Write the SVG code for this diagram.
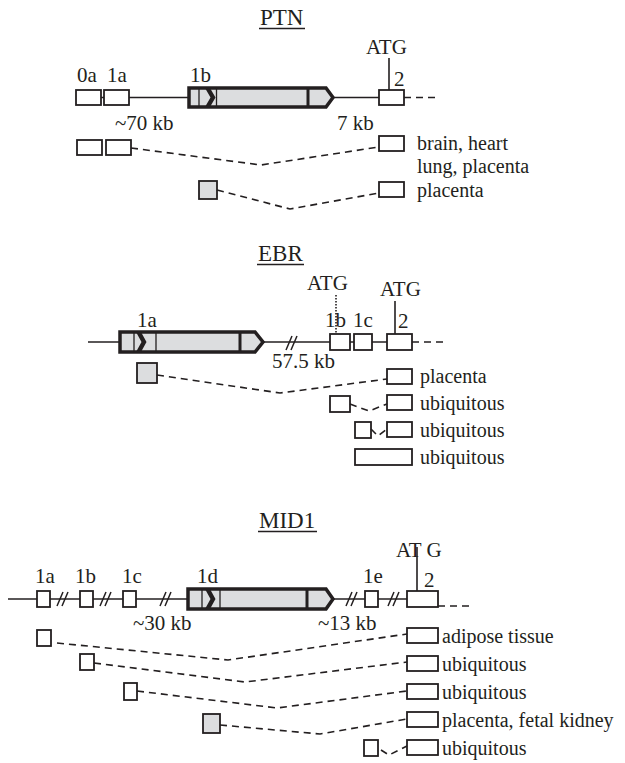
<svg xmlns="http://www.w3.org/2000/svg" xmlns:xlink="http://www.w3.org/1999/xlink" width="625" height="763" viewBox="0 0 625 763">
<style>
.t{font-family:"Liberation Serif","Times New Roman",serif;font-size:21px;fill:#231f20}
.r{font-size:20px}
.h{font-size:23px}
.ex{fill:#fff;stroke:#231f20;stroke-width:1.8}
.gx{fill:#dcdddf;stroke:#231f20;stroke-width:1.8}
.ln{stroke:#231f20;stroke-width:1.6;fill:none}
.ds{stroke:#231f20;stroke-width:1.6;fill:none;stroke-dasharray:7 5}
.big{fill:#dcdddf;stroke:#231f20;stroke-width:3.5}
.thin{stroke:#231f20;stroke-width:1.3}
.div{stroke:#231f20;stroke-width:3}
.chev{fill:#231f20}
</style>
<defs>
<path id="brk" d="M-5,7 L1,-7 M0,7 L6,-7" stroke="#231f20" stroke-width="1.5" fill="none"/>
</defs>

<!-- ================= PTN ================= -->
<g id="ptn-title"><text class="t h" x="260" y="25">PTN</text><line class="ln" x1="259" y1="28.5" x2="305" y2="28.5"/></g>
<g id="ptn-gene">
<line class="ln" x1="101" y1="97.5" x2="379" y2="97.5"/>
<text class="t" x="366" y="54">ATG</text>
<line class="ln" x1="389" y1="58" x2="389" y2="90"/>
<text class="t" x="77" y="82">0a</text>
<text class="t" x="107" y="82">1a</text>
<text class="t" x="190" y="82">1b</text>
<text class="t" x="394" y="86">2</text>
<text class="t" x="115" y="130">~70 kb</text>
<text class="t" x="337" y="130">7 kb</text>
</g>
<g id="ptn-0a"><rect class="ex" x="76" y="90" width="25" height="15"/></g>
<g id="ptn-1a"><rect class="ex" x="104" y="90" width="25" height="15"/></g>
<g id="ptn-1b">
<path class="big" d="M189,88 H326 L333,97.5 L326,107 H189 Z"/>
<line class="thin" x1="199" y1="88" x2="199" y2="107"/>
<polygon class="chev" points="205,88 210,88 215.5,97.5 210,107 205,107 210.5,97.5"/>
<line class="thin" x1="216.5" y1="88" x2="216.5" y2="107"/>
<line class="div" x1="308" y1="88" x2="308" y2="107"/>
</g>
<g id="ptn-2"><rect class="ex" x="379" y="90" width="25" height="15"/></g>
<g id="ptn-r1">
<rect class="ex" x="77" y="140" width="25" height="15"/>
<rect class="ex" x="106" y="140" width="25" height="15"/>
<rect class="ex" x="379" y="136" width="25" height="15"/>
<text class="t r" x="417" y="150">brain, heart</text>
<text class="t r" x="417" y="173">lung, placenta</text>
</g>
<g id="ptn-r2">
<rect class="gx" x="199" y="181" width="18" height="18"/>
<rect class="ex" x="379" y="182" width="25" height="15"/>
<text class="t r" x="417" y="197">placenta</text>
</g>

<!-- ================= EBR ================= -->
<g id="ebr-title"><text class="t h" x="258" y="261">EBR</text><line class="ln" x1="257" y1="264.5" x2="304" y2="264.5"/></g>
<g id="ebr-gene">
<line class="ln" x1="88" y1="342" x2="387" y2="342"/>
<use xlink:href="#brk" x="291" y="343"/>
<text class="t" x="307" y="290">ATG</text>
<line class="ln" x1="336" y1="295" x2="336" y2="334" stroke-dasharray="1.5 1.5"/>
<text class="t" x="380" y="296">ATG</text>
<line class="ln" x1="395" y1="301" x2="395" y2="334"/>
<text class="t" x="137" y="327">1a</text>
<text class="t" x="325" y="327">1b</text>
<text class="t" x="353" y="327">1c</text>
<text class="t" x="398" y="328">2</text>
<text class="t" x="272" y="368">57.5 kb</text>
</g>
<g id="ebr-1a">
<path class="big" d="M120,332 H255 L263,342 L255,352 H120 Z"/>
<line class="thin" x1="134" y1="332" x2="134" y2="352"/>
<polygon class="chev" points="136,332 141,332 146.5,342 141,352 136,352 141.5,342"/>
<line class="thin" x1="156" y1="332" x2="156" y2="352"/>
<line class="div" x1="240" y1="332" x2="240" y2="352"/>
</g>
<g id="ebr-1b"><rect class="ex" x="330" y="334" width="20" height="16"/></g>
<g id="ebr-1c"><rect class="ex" x="354" y="334" width="18" height="16"/></g>
<g id="ebr-2"><rect class="ex" x="387" y="334" width="25" height="16"/></g>
<g id="ebr-r1">
<rect class="gx" x="137" y="363" width="20" height="20"/>
<rect class="ex" x="387" y="369" width="25" height="15"/>
<text class="t r" x="420" y="383">placenta</text>
</g>
<g id="ebr-r2">
<rect class="ex" x="330" y="396" width="20" height="16"/>
<rect class="ex" x="387" y="395" width="25" height="15"/>
<text class="t r" x="420" y="410">ubiquitous</text>
</g>
<g id="ebr-r3">
<rect class="ex" x="355" y="422" width="16" height="16"/>
<rect class="ex" x="387" y="422" width="25" height="15"/>
<text class="t r" x="420" y="437">ubiquitous</text>
</g>
<g id="ebr-r4">
<rect class="ex" x="355" y="449" width="57" height="16"/>
<text class="t r" x="420" y="464">ubiquitous</text>
</g>

<!-- ================= MID1 ================= -->
<g id="mid1-title"><text class="t h" x="259" y="528">MID1</text><line class="ln" x1="258" y1="531.5" x2="317" y2="531.5"/></g>
<g id="mid1-gene">
<line class="ln" x1="8" y1="599" x2="407" y2="599"/>
<use xlink:href="#brk" x="62" y="599"/>
<use xlink:href="#brk" x="105" y="599"/>
<use xlink:href="#brk" x="165" y="599"/>
<use xlink:href="#brk" x="351" y="599"/>
<use xlink:href="#brk" x="393" y="599"/>
<text class="t" x="396" y="557">AT G</text>
<line class="ln" x1="417" y1="547" x2="417" y2="591"/>
<text class="t" x="35" y="583">1a</text>
<text class="t" x="75" y="583">1b</text>
<text class="t" x="122" y="583">1c</text>
<text class="t" x="197" y="583">1d</text>
<text class="t" x="363" y="583">1e</text>
<text class="t" x="424" y="587">2</text>
<text class="t" x="133" y="630">~30 kb</text>
<text class="t" x="318" y="630">~13 kb</text>
</g>
<g id="mid1-1a"><rect class="ex" x="37" y="591" width="13" height="16"/></g>
<g id="mid1-1b"><rect class="ex" x="80" y="591" width="13" height="16"/></g>
<g id="mid1-1c"><rect class="ex" x="123" y="591" width="13" height="16"/></g>
<g id="mid1-1d">
<path class="big" d="M188,589 H326 L333,599 L326,609 H188 Z"/>
<line class="thin" x1="202" y1="589" x2="202" y2="609"/>
<polygon class="chev" points="205,589 210,589 215.5,599 210,609 205,609 210.5,599"/>
<line class="thin" x1="220" y1="589" x2="220" y2="609"/>
<line class="div" x1="307" y1="589" x2="307" y2="609"/>
</g>
<g id="mid1-1e"><rect class="ex" x="365" y="591" width="13" height="16"/></g>
<g id="mid1-2"><rect class="ex" x="407" y="591" width="31" height="16"/></g>
<g id="mid1-r1">
<rect class="ex" x="37" y="630" width="14" height="16"/>
<rect class="ex" x="407" y="628" width="31" height="15"/>
<text class="t r" x="442" y="643">adipose tissue</text>
</g>
<g id="mid1-r2">
<rect class="ex" x="80" y="654" width="14" height="16"/>
<rect class="ex" x="407" y="656" width="31" height="15"/>
<text class="t r" x="442" y="671">ubiquitous</text>
</g>
<g id="mid1-r3">
<rect class="ex" x="124" y="683" width="13" height="17"/>
<rect class="ex" x="407" y="684" width="31" height="15"/>
<text class="t r" x="442" y="699">ubiquitous</text>
</g>
<g id="mid1-r4">
<rect class="gx" x="203" y="714" width="17" height="19"/>
<rect class="ex" x="407" y="712" width="31" height="15"/>
<text class="t r" x="442" y="727">placenta, fetal kidney</text>
</g>
<g id="mid1-r5">
<rect class="ex" x="364" y="740" width="14" height="16"/>
<rect class="ex" x="407" y="740" width="31" height="15"/>
<text class="t r" x="442" y="755">ubiquitous</text>
</g>

<!-- ================= connectors ================= -->
<g id="connectors">
<line class="ds" x1="404" y1="97.5" x2="440" y2="97.5"/>
<polyline class="ds" points="131,148 261,165 379,147"/>
<polyline class="ds" points="217,190 290,209 379,193"/>
<line class="ds" x1="412" y1="342" x2="443" y2="342"/>
<polyline class="ds" points="157,375 280,393 387,379"/>
<polyline class="ds" points="350,404 369,411 387,404"/>
<polyline class="ds" points="371,429 378,436 387,429" stroke-dasharray="5 5"/>
<line class="ds" x1="438" y1="606" x2="470" y2="606"/>
<polyline class="ds" points="57,643 228,660 407,634"/>
<polyline class="ds" points="94,663 245,682 407,662"/>
<polyline class="ds" points="137,691 277,708 407,691"/>
<polyline class="ds" points="220,725 320,734 407,719"/>
<polyline class="ds" points="381,750 389,755 407,746" stroke-dasharray="5 4"/>
</g>
</svg>
